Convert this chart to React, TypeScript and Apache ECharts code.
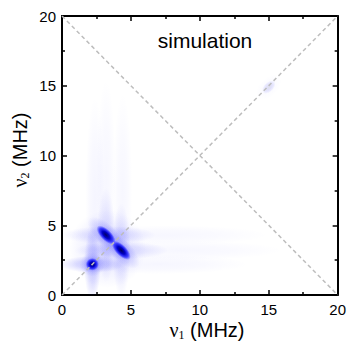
import React, { useEffect, useRef } from "react";
import * as echarts from "echarts";

// Axis ticks
const axisMin = 0;
const axisMax = 20;
const axisStep = 5;

// Cross peaks (MHz)
const peakX = [2.2, 3.2, 4.3, 15.0];
const peakY = [2.2, 4.3, 3.2, 14.9];
const peakLen = [0.48, 0.9, 0.9, 0.6];
const peakWid = [0.46, 0.4, 0.4, 0.35];
const peakTilt = [0, -45, -45, 45];
const peakAmp = [1, 1, 1, 0.1];

// Ridges: orientation (0 = horizontal, 1 = vertical), position, centre, half length, half width, alpha
const ridgeOrient = [0, 1, 0, 0, 1, 1, 0, 0, 0, 1, 1, 1];
const ridgePos = [2.2, 2.2, 4.3, 3.2, 3.2, 4.3, 2.2, 3.2, 4.3, 2.4, 3.2, 4.4];
const ridgeMid = [2.2, 2.2, 3.4, 4.3, 4.3, 3.2, 7.0, 8.5, 7.5, 7.0, 8.5, 7.5];
const ridgeHalfLen = [2.4, 2.6, 3.4, 3.4, 3.4, 3.4, 6.5, 7.5, 7.5, 7.2, 7.0, 7.0];
const ridgeHalfWid = [0.6, 0.6, 0.65, 0.65, 0.65, 0.65, 0.7, 0.7, 0.7, 0.7, 0.7, 0.7];
const ridgeAlpha = [0.24, 0.24, 0.15, 0.15, 0.14, 0.14, 0.045, 0.04, 0.04, 0.05, 0.04, 0.04];

// Diffuse background around the cluster: x, y, radius, alpha
const washX = [3.3];
const washY = [3.3];
const washR = [2.8];
const washA = [0.12];

// Diagonals
const diagMain = [[0, 0], [20, 20]];
const diagAnti = [[0, 20], [20, 0]];

const annotation = "simulation";

export default function App() {
  const ref = useRef<HTMLDivElement>(null);
  useEffect(() => {
    if (!ref.current) return;
    const chart = echarts.init(ref.current, undefined, { renderer: "svg" });

    const peakData = peakX.map((x, i) => [x, peakY[i], peakLen[i], peakWid[i], peakTilt[i], peakAmp[i]]);
    const ridgeData = ridgeOrient.map((o, i) =>
      o === 0
        ? [ridgeMid[i], ridgePos[i], ridgeHalfLen[i], ridgeHalfWid[i], 0, ridgeAlpha[i]]
        : [ridgePos[i], ridgeMid[i], ridgeHalfWid[i], ridgeHalfLen[i], 0, ridgeAlpha[i]]
    );
    const washData = washX.map((x, i) => [x, washY[i], washR[i], washR[i], 0, washA[i]]);

    const blobRender = (stopsFor: (a: number) => any[]) => (params: any, api: any) => {
      const c = api.coord([api.value(0), api.value(1)]);
      const s = api.size([api.value(2), api.value(3)]);
      const a = api.value(5);
      return {
        type: "ellipse",
        shape: { cx: c[0], cy: c[1], rx: s[0], ry: s[1] },
        style: { fill: new echarts.graphic.RadialGradient(0.5, 0.5, 0.5, stopsFor(a)) },
      };
    };

    const softStops = (a: number) => [
      { offset: 0, color: `rgba(50,50,255,${a})` },
      { offset: 0.5, color: `rgba(50,50,255,${a * 0.65})` },
      { offset: 1, color: "rgba(50,50,255,0)" },
    ];

    const axisCommon = {
      type: "value",
      min: axisMin,
      max: axisMax,
      interval: axisStep,
      splitLine: { show: false },
      axisLine: { show: true, onZero: false, lineStyle: { color: "#000", width: 2 } },
      axisTick: { show: true, inside: true, length: 5, lineStyle: { color: "#000", width: 1.5 } },
      minorTick: { show: true, splitNumber: 2, length: 3, lineStyle: { color: "#000", width: 1.5 } },
      axisLabel: { show: true, color: "#000", fontSize: 15, fontFamily: "Liberation Sans, Arial" },
    };

    const option: any = {
      animation: false,
      backgroundColor: "#fff",
      grid: { left: 62, top: 16, width: 280, height: 279, containLabel: false },
      xAxis: [
        { ...axisCommon, position: "bottom", axisLabel: { ...axisCommon.axisLabel, margin: 7 } },
        { ...axisCommon, position: "top", axisLabel: { show: false } },
      ],
      yAxis: [
        { ...axisCommon, position: "left", axisLabel: { ...axisCommon.axisLabel, margin: 6 } },
        { ...axisCommon, position: "right", axisLabel: { show: false } },
      ],
      series: [
        {
          type: "custom",
          clip: true,
          z: 1,
          data: washData,
          encode: { x: 0, y: 1 },
          renderItem: blobRender(softStops),
        },
        {
          type: "custom",
          clip: true,
          z: 1,
          data: ridgeData,
          encode: { x: 0, y: 1 },
          renderItem: blobRender(softStops),
        },
        {
          type: "custom",
          clip: true,
          z: 2,
          data: peakData,
          encode: { x: 0, y: 1 },
          renderItem: (params: any, api: any) => {
            const c = api.coord([api.value(0), api.value(1)]);
            const s = api.size([api.value(2), api.value(3)]);
            const rot = (api.value(4) * Math.PI) / 180;
            const amp = api.value(5);
            return {
              type: "group",
              x: c[0],
              y: c[1],
              rotation: rot,
              children: [
                {
                  type: "ellipse",
                  shape: { cx: 0, cy: 0, rx: s[0] * 1.9, ry: s[1] * 1.9 },
                  style: {
                    opacity: amp,
                    fill: new echarts.graphic.RadialGradient(0.5, 0.5, 0.5, [
                      { offset: 0, color: "rgba(60,60,255,0.35)" },
                      { offset: 1, color: "rgba(60,60,255,0)" },
                    ]),
                  },
                },
                {
                  type: "ellipse",
                  shape: { cx: 0, cy: 0, rx: s[0], ry: s[1] },
                  style: {
                    opacity: amp,
                    fill: new echarts.graphic.RadialGradient(0.5, 0.5, 0.5, [
                      { offset: 0, color: "rgba(0,0,95,1)" },
                      { offset: 0.4, color: "rgba(0,0,200,1)" },
                      { offset: 0.72, color: "rgba(20,20,255,0.7)" },
                      { offset: 1, color: "rgba(60,60,255,0)" },
                    ]),
                  },
                },
              ],
            };
          },
        },
        {
          type: "line",
          data: diagMain,
          symbol: "none",
          z: 3,
          lineStyle: { color: "#bdbdbd", width: 1.5, type: [4, 3] },
          silent: true,
        },
        {
          type: "line",
          data: diagAnti,
          symbol: "none",
          z: 3,
          lineStyle: { color: "#bdbdbd", width: 1.5, type: [4, 3] },
          silent: true,
        },
      ],
      graphic: [
        {
          type: "text",
          x: 205,
          y: 40,
          style: {
            text: annotation,
            fill: "#000",
            font: "21px 'Liberation Sans', Arial, sans-serif",
            align: "center",
            verticalAlign: "middle",
          },
        },
        {
          type: "text",
          x: 207,
          y: 330,
          style: {
            text: "{g|ν}{s|1}{t| (MHz)}",
            align: "center",
            verticalAlign: "middle",
            fill: "#000",
            rich: {
              g: { fontFamily: "Liberation Serif, Times New Roman, serif", fontSize: 20, fill: "#000" },
              s: { fontFamily: "Liberation Serif, Times New Roman, serif", fontSize: 12, fill: "#000", padding: [10, 0, 0, 0] },
              t: { fontFamily: "Liberation Sans, Arial, sans-serif", fontSize: 20, fill: "#000" },
            },
          },
        },
        {
          type: "text",
          x: 20,
          y: 150,
          rotation: Math.PI / 2,
          style: {
            text: "{g|ν}{s|2}{t| (MHz)}",
            align: "center",
            verticalAlign: "middle",
            fill: "#000",
            rich: {
              g: { fontFamily: "Liberation Serif, Times New Roman, serif", fontSize: 20, fill: "#000" },
              s: { fontFamily: "Liberation Serif, Times New Roman, serif", fontSize: 12, fill: "#000", padding: [10, 0, 0, 0] },
              t: { fontFamily: "Liberation Sans, Arial, sans-serif", fontSize: 20, fill: "#000" },
            },
          },
        },
      ],
    };
    chart.setOption(option);
    return () => chart.dispose();
  }, []);
  return <div ref={ref} style={{ width: 349, height: 343, position: "absolute", left: 0, top: 0 }} />;
}
